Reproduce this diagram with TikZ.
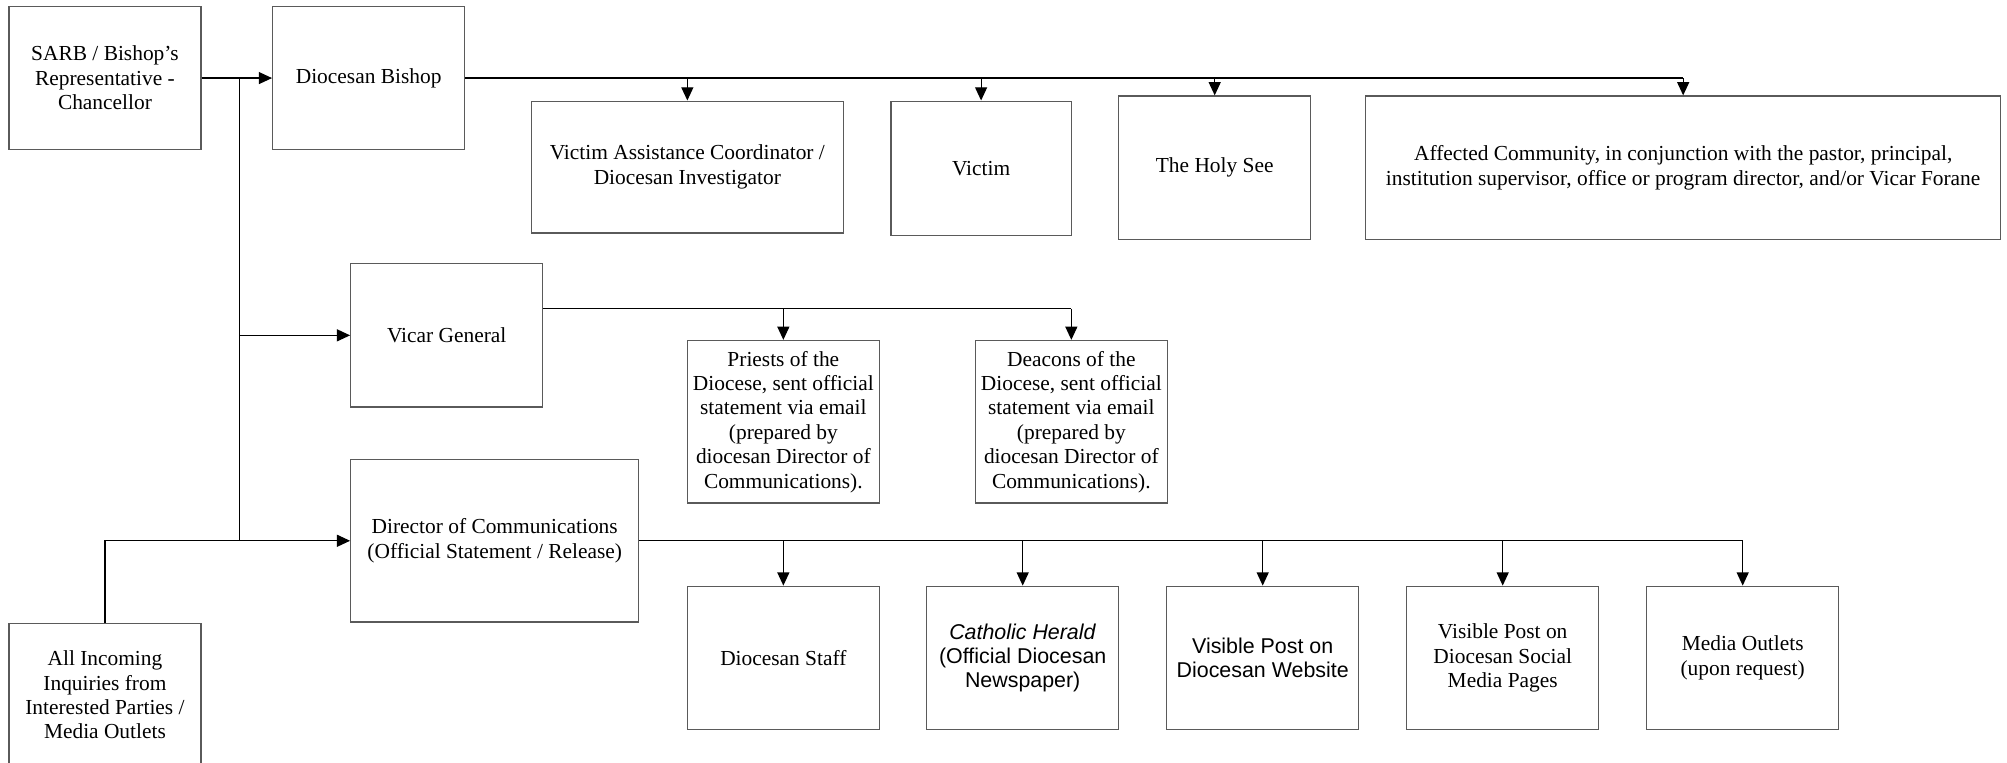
\documentclass[tikz,border=0pt]{standalone}
\usepackage{fontspec}
\setmainfont{Liberation Serif}
\newfontfamily\arialfont{Liberation Sans}
\usetikzlibrary{arrows.meta}
\usetikzlibrary{calc,positioning}
\definecolor{rahmen}{RGB}{90,90,90}

\tikzset{
    box/.style={draw=rahmen, line width=0.6pt, fill=white, align=center, inner sep=2pt,
        minimum width=96pt, minimum height=71.7pt, font=\fontsize{10.7}{12.2}\selectfont},
    sansbox/.style={box, font=\arialfont\fontsize{10.7}{12.2}\selectfont},
    link/.style={black, line width=0.6pt},
    arr/.style={link, -{Triangle[length=6.6pt,width=6pt]}},
}

\begin{document}
\begin{tikzpicture}[x=0.64pt, y=-0.64pt]

    \useasboundingbox (0,0) rectangle (1568,596);

    % left column
    \node[box] (sarb) at (82,61) {SARB / Bishop’s\\Representative -\\Chancellor};
    \node[box] (bishop) at (288,61) {Diocesan Bishop};
    \node[box] (vicar) at (349,262) {Vicar General};
    \node[box, minimum width=144pt, minimum height=81.3pt] (dir) at (386.5,422.5) {Director of Communications\\(Official Statement / Release)};
    \node[box] (inq) at (82,543) {All Incoming\\Inquiries from\\Interested Parties /\\Media Outlets};

    % bishop row
    \node[box, minimum width=156.2pt, minimum height=65.9pt] (vac) at (537,130.5) {Victim Assistance Coordinator /\\Diocesan Investigator};
    \node[box, minimum width=90.2pt, minimum height=67.2pt] (victim) at (766.5,131.5) {Victim};
    \node[box] (see) at (949,131) {The Holy See};
    \node[box, minimum width=317.4pt] (community) at (1315,131) {Affected Community, in conjunction with the pastor, principal,\\institution supervisor, office or program director, and/or Vicar Forane};

    % vicar row
    \node[box, minimum height=81.3pt] (priests) at (612,329.5) {Priests of the\\Diocese, sent official\\statement via email\\(prepared by\\diocesan Director of\\Communications).};
    \node[box, minimum height=81.3pt] (deacons) at (837,329.5) {Deacons of the\\Diocese, sent official\\statement via email\\(prepared by\\diocesan Director of\\Communications).};

    % communications row
    \node[box] (staff) at (612,514) {Diocesan Staff};
    \node[sansbox] (herald) at (799,514) {\textit{Catholic Herald}\\(Official Diocesan\\Newspaper)};
    \node[sansbox] (website) at (986.5,514) {Visible Post on\\Diocesan Website};
    \node[box] (social) at (1174,514) {Visible Post on\\Diocesan Social\\Media Pages};
    \node[box] (media) at (1361.5,514) {Media Outlets\\(upon request)};

    \coordinate (spine) at (187,61);
    \coordinate (vgout) at ([yshift=13.4pt]vicar.east);

    \draw[arr] (sarb) -- (bishop);
    \draw[link] (spine) -- (spine |- dir.west);
    \draw[arr] (spine |- vicar.west) -- (vicar.west);
    \draw[arr] (spine |- dir.west) -- (dir.west);
    \draw[link] (inq.north) |- (spine |- dir.west);

    \draw[link] (bishop.east) -- (bishop.east -| community.north);
    \foreach \n in {vac, victim, see, community}
        \draw[arr] (bishop.east -| \n.north) -- (\n.north);

    \draw[link] (vgout) -- (vgout -| deacons.north);
    \foreach \n in {priests, deacons}
        \draw[arr] (vgout -| \n.north) -- (\n.north);

    \draw[link] (dir.east) -- (dir.east -| media.north);
    \foreach \n in {staff, herald, website, social, media}
        \draw[arr] (dir.east -| \n.north) -- (\n.north);

\end{tikzpicture}
\end{document}
